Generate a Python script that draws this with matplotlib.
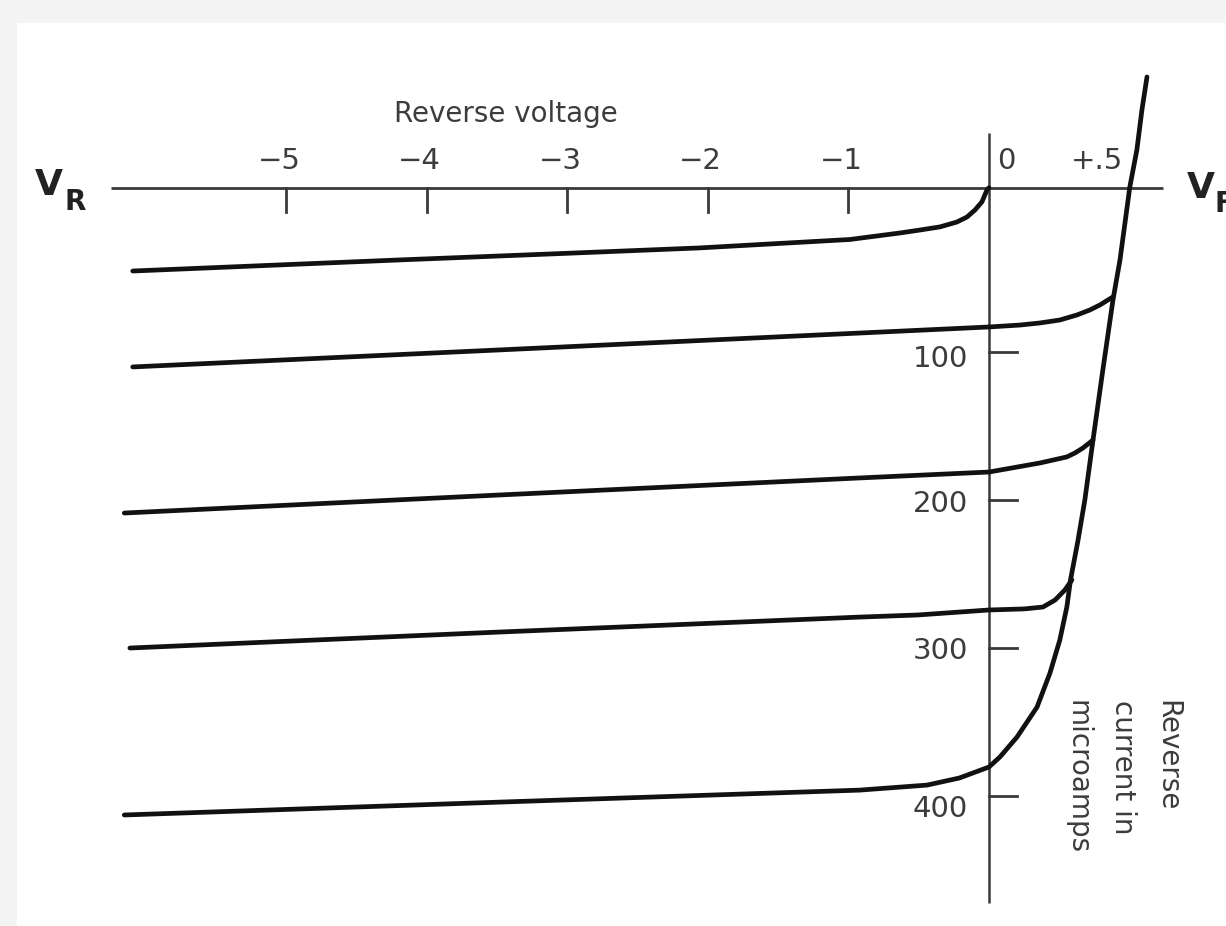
import numpy as np
import matplotlib
matplotlib.use("Agg")
import matplotlib.pyplot as plt
from matplotlib.patches import Rectangle

# %%
# Photodiode I-V family
# voltage in volts (forward side drawn on an expanded scale), current in microamps (down = more)
v_dark = [-6.09, -4.19, -3.02, -2.06, -0.99, -0.633, -0.491, -0.349, -0.228, -0.156,
          -0.100, -0.050, -0.014, 0.0]
i_dark = [45.3, 37.8, 33.4, 29.7, 24.0, 19.6, 17.6, 15.5, 12.2, 8.8,
          4.1, -1.4, -9.5, -11.0]

v_c1 = [-6.09, -3.48, -0.92, 0.0, 0.110, 0.181, 0.252, 0.313, 0.359, 0.395, 0.423, 0.441]
i_c1 = [110.1, 98.6, 87.2, 83.1, 81.8, 80.4, 78.4, 75.0, 71.6, 68.2, 64.9, 62.8]

v_c2 = [-6.15, -3.48, -0.92, 0.0, 0.181, 0.277, 0.306, 0.334, 0.370]
i_c2 = [208.8, 196.6, 185.1, 181.1, 175.0, 170.9, 168.2, 164.9, 159.5]

v_c3 = [-6.11, -3.48, -0.92, -0.51, 0.0, 0.121, 0.135, 0.192, 0.235, 0.270, 0.295]
i_c3 = [300.0, 289.2, 279.1, 277.7, 274.3, 273.6, 273.4, 272.3, 267.6, 260.8, 254.0]

v_c4 = [-6.15, -3.48, -0.92, -0.44, -0.21, 0.0, 0.039, 0.100, 0.171, 0.217, 0.252,
        0.277, 0.290, 0.316, 0.341, 0.370, 0.405, 0.441, 0.466, 0.501, 0.526,
        0.544, 0.562]
i_c4 = [412.8, 404.1, 396.0, 392.6, 387.8, 380.4, 373.6, 360.1, 339.9, 316.9, 294.6,
        272.3, 254.0, 228.0, 200.0, 159.5, 112.2, 64.9, 37.8, -11.5, -36.5,
        -63.5, -85.8]

v_ticks = [-5, -4, -3, -2, -1]
i_ticks = [100, 200, 300, 400]
i_ticklabels = ["100", "200", "300", "400"]

FWD = 2.0  # forward voltages are stretched x2 in the drawing


def fx(v):
    v = np.asarray(v, dtype=float)
    return np.where(v > 0, v * FWD, v)


# %%
fig = plt.figure(figsize=(12.26, 9.26), dpi=100)
fig.patch.set_facecolor("#f4f4f4")
fig.add_artist(Rectangle((17 / 1226, 0), 1, (926 - 23) / 926, transform=fig.transFigure,
                         facecolor="white", edgecolor="none", zorder=0))

ax = fig.add_axes([0, 0, 1, 1])
ax.set_facecolor("none")
ax.axis("off")
ax.set_xlim(-7.034, 1.686)
ax.set_ylim(487.8, -137.8)

axis_col = "#3a3a3a"
txt_col = "#3c3c3c"
x_axis_y = -11

# axes
ax.plot([-6.245, 1.238], [x_axis_y, x_axis_y], color=axis_col, lw=2.0, solid_capstyle="butt")
ax.plot([0, 0], [-48, 472], color=axis_col, lw=1.8, solid_capstyle="butt")
for v in v_ticks:
    ax.plot([v, v], [x_axis_y, 5.4], color=axis_col, lw=2.0)
    ax.text(v - 0.05, -29, "\u2212" + str(abs(v)), ha="center", va="center",
            fontsize=21, color=txt_col)
ax.text(0.12, -29, "0", ha="center", va="center", fontsize=21, color=txt_col)
ax.text(0.768, -29, "+.5", ha="center", va="center", fontsize=21, color=txt_col)

lab_off = [5, 3, 2, 9]
for i, lab, off in zip(i_ticks, i_ticklabels, lab_off):
    ax.plot([0, 0.2], [i, i], color=axis_col, lw=2.0)
    ax.text(-0.15, i + off, lab, ha="right", va="center", fontsize=21, color=txt_col)

# curves
for v, i in [(v_dark, i_dark), (v_c1, i_c1), (v_c2, i_c2), (v_c3, i_c3), (v_c4, i_c4)]:
    ax.plot(fx(v), i, color="#111111", lw=3.4, solid_capstyle="round", solid_joinstyle="round")

# labels
ax.text(-3.435, -60.8, "Reverse voltage", ha="center", va="center", fontsize=20, color=txt_col)
ax.text(-6.69, -12.8, "V", ha="center", va="center", fontsize=26, fontweight="bold", color="#222222")
ax.text(-6.50, -1.4, "R", ha="center", va="center", fontsize=20, fontweight="bold", color="#222222")
# V_F sits at the right edge and is partly cut off, as in the original
ax.text(1.508, -10.8, "V", ha="center", va="center", fontsize=26, fontweight="bold", color="#222222")
ax.text(1.607, 0.0, "F", ha="left", va="center", fontsize=20, fontweight="bold", color="#222222")

for x, s in [(1.266, "Reverse"), (0.953, "current in"), (0.633, "microamps")]:
    ax.text(x, 335, s, rotation=270, ha="center", va="top", fontsize=20, color=txt_col)

fig.savefig("out.png", dpi=100, facecolor=fig.get_facecolor())
